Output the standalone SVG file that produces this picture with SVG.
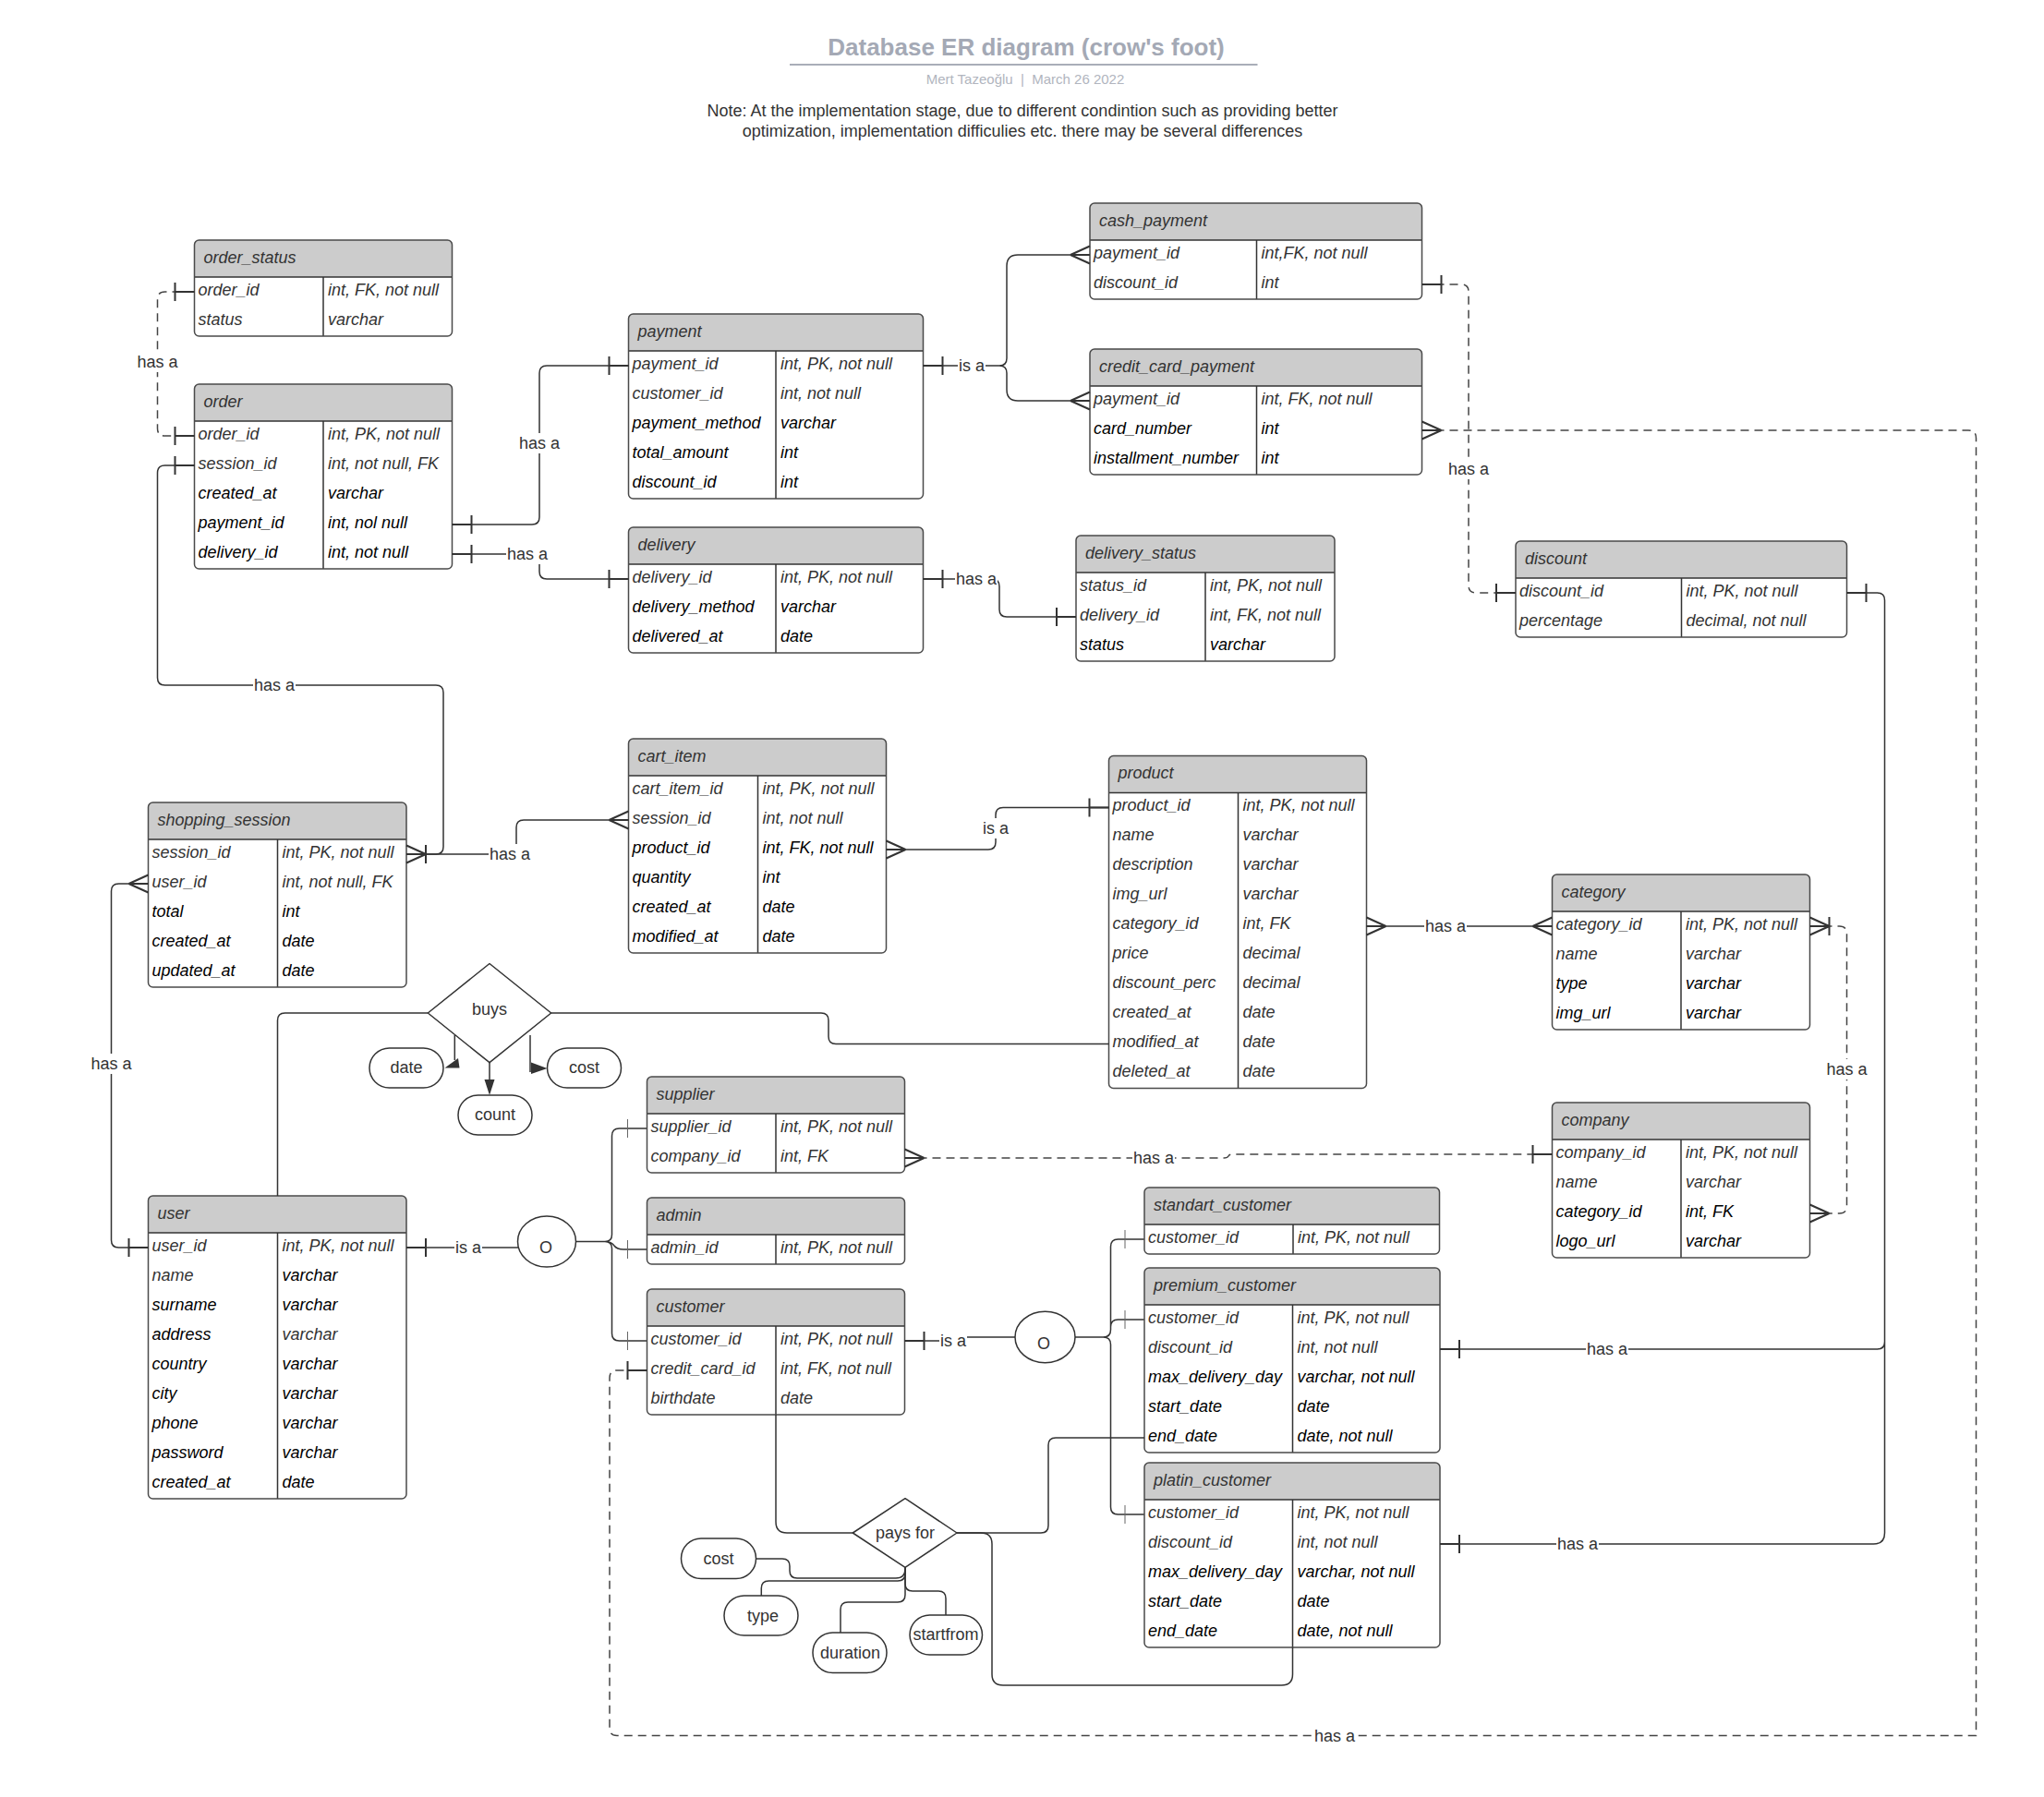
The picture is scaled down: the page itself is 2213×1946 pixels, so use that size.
<svg xmlns="http://www.w3.org/2000/svg" width="2213" height="1946" viewBox="0 0 2213 1946">
<style>
.bf{fill:#fff}
.bo{fill:none;stroke:#4a4a4a;stroke-width:1.5}
.hd{fill:#cccccc}
.ln{fill:none;stroke:#333;stroke-width:1.5}
.t{font-family:"Liberation Sans",Arial,sans-serif;font-size:18px;font-style:italic;fill:#333;transform:translateY(-1.5px)}
.k{fill:#000}
.c{fill:none;stroke:#333;stroke-width:1.5}
.d{stroke:#444;stroke-dasharray:9 6}
.lb{font-family:"Liberation Sans",Arial,sans-serif;font-size:18px;fill:#333;text-anchor:middle}
.wb{fill:#fff}
.sh{fill:#fff;stroke:#333;stroke-width:1.5;stroke-linejoin:round}
.ah{fill:#333}
</style>
<defs>
<path id="one" d="M0,0H21M21,-10V10" fill="none" stroke="#333" stroke-width="2"/>
<path id="onet" d="M0,0H21M21,-10V10" fill="none" stroke="#666" stroke-width="1"/>
<path id="many" d="M21,0L0,-9.5M21,0L0,9.5M21,0H0" fill="none" stroke="#333" stroke-width="2"/>
<path id="onemany" d="M21,0L0,-9.5M21,0L0,9.5M21,0H0M21,-10V10" fill="none" stroke="#333" stroke-width="2"/>
</defs>
<rect width="2213" height="1946" fill="#fff"/>

<g id="title">
<text x="1111" y="60" text-anchor="middle" font-family="Liberation Sans, Arial, sans-serif" font-size="26" font-weight="bold" fill="#a4a9b5">Database ER diagram (crow's foot)</text>
<path d="M855,70H1361.5" stroke="#a9aeb8" stroke-width="2"/>
<text x="1110" y="91" text-anchor="middle" font-family="Liberation Sans, Arial, sans-serif" font-size="15" fill="#b1b5be" xml:space="preserve" style="white-space:pre">Mert Tazeoğlu  |  March 26 2022</text>
<text x="1107" y="126" text-anchor="middle" font-family="Liberation Sans, Arial, sans-serif" font-size="18" fill="#333">Note: At the implementation stage, due to different condintion such as providing better</text>
<text x="1107" y="148" text-anchor="middle" font-family="Liberation Sans, Arial, sans-serif" font-size="18" fill="#333">optimization, implementation difficulies etc. there may be several differences</text>
</g>

<g id="order_status">
<rect class="bf" x="210.5" y="260" width="279" height="104" rx="5"/>
<path class="hd" d="M210.5,300V265Q210.5,260 215.5,260H484.5Q489.5,260 489.5,265V300Z"/>
<path class="ln" d="M210.5,300H489.5M350,300V364"/>
<text class="t" x="220.5" y="286">order_status</text>
<text class="t" x="214.5" y="321">order_id</text><text class="t" x="355" y="321">int, FK, not null</text>
<text class="t" x="214.5" y="353">status</text><text class="t" x="355" y="353">varchar</text>
<rect class="bo" x="210.5" y="260" width="279" height="104" rx="5"/>
</g>

<g id="order">
<rect class="bf" x="210.5" y="416" width="279" height="200" rx="5"/>
<path class="hd" d="M210.5,456V421Q210.5,416 215.5,416H484.5Q489.5,416 489.5,421V456Z"/>
<path class="ln" d="M210.5,456H489.5M350,456V616"/>
<text class="t" x="220.5" y="442">order</text>
<text class="t" x="214.5" y="477">order_id</text><text class="t" x="355" y="477">int, PK, not null</text>
<text class="t" x="214.5" y="509">session_id</text><text class="t" x="355" y="509">int, not null, FK</text>
<text class="t k" x="214.5" y="541">created_at</text><text class="t k" x="355" y="541">varchar</text>
<text class="t k" x="214.5" y="573">payment_id</text><text class="t k" x="355" y="573">int, nol null</text>
<text class="t k" x="214.5" y="605">delivery_id</text><text class="t k" x="355" y="605">int, not null</text>
<rect class="bo" x="210.5" y="416" width="279" height="200" rx="5"/>
</g>

<g id="payment">
<rect class="bf" x="680.5" y="340" width="319" height="200" rx="5"/>
<path class="hd" d="M680.5,380V345Q680.5,340 685.5,340H994.5Q999.5,340 999.5,345V380Z"/>
<path class="ln" d="M680.5,380H999.5M840,380V540"/>
<text class="t" x="690.5" y="366">payment</text>
<text class="t" x="684.5" y="401">payment_id</text><text class="t" x="845" y="401">int, PK, not null</text>
<text class="t" x="684.5" y="433">customer_id</text><text class="t" x="845" y="433">int, not null</text>
<text class="t k" x="684.5" y="465">payment_method</text><text class="t k" x="845" y="465">varchar</text>
<text class="t k" x="684.5" y="497">total_amount</text><text class="t k" x="845" y="497">int</text>
<text class="t k" x="684.5" y="529">discount_id</text><text class="t k" x="845" y="529">int</text>
<rect class="bo" x="680.5" y="340" width="319" height="200" rx="5"/>
</g>

<g id="delivery">
<rect class="bf" x="680.5" y="571" width="319" height="136" rx="5"/>
<path class="hd" d="M680.5,611V576Q680.5,571 685.5,571H994.5Q999.5,571 999.5,576V611Z"/>
<path class="ln" d="M680.5,611H999.5M840,611V707"/>
<text class="t" x="690.5" y="597">delivery</text>
<text class="t" x="684.5" y="632">delivery_id</text><text class="t" x="845" y="632">int, PK, not null</text>
<text class="t k" x="684.5" y="664">delivery_method</text><text class="t k" x="845" y="664">varchar</text>
<text class="t k" x="684.5" y="696">delivered_at</text><text class="t k" x="845" y="696">date</text>
<rect class="bo" x="680.5" y="571" width="319" height="136" rx="5"/>
</g>

<g id="cash_payment">
<rect class="bf" x="1180" y="220" width="359.5" height="104" rx="5"/>
<path class="hd" d="M1180,260V225Q1180,220 1185,220H1534.5Q1539.5,220 1539.5,225V260Z"/>
<path class="ln" d="M1180,260H1539.5M1360.5,260V324"/>
<text class="t" x="1190" y="246">cash_payment</text>
<text class="t" x="1184" y="281">payment_id</text><text class="t" x="1365.5" y="281">int,FK, not null</text>
<text class="t" x="1184" y="313">discount_id</text><text class="t" x="1365.5" y="313">int</text>
<rect class="bo" x="1180" y="220" width="359.5" height="104" rx="5"/>
</g>

<g id="credit_card_payment">
<rect class="bf" x="1180" y="378" width="359.5" height="136" rx="5"/>
<path class="hd" d="M1180,418V383Q1180,378 1185,378H1534.5Q1539.5,378 1539.5,383V418Z"/>
<path class="ln" d="M1180,418H1539.5M1360.5,418V514"/>
<text class="t" x="1190" y="404">credit_card_payment</text>
<text class="t" x="1184" y="439">payment_id</text><text class="t" x="1365.5" y="439">int, FK, not null</text>
<text class="t k" x="1184" y="471">card_number</text><text class="t k" x="1365.5" y="471">int</text>
<text class="t k" x="1184" y="503">installment_number</text><text class="t k" x="1365.5" y="503">int</text>
<rect class="bo" x="1180" y="378" width="359.5" height="136" rx="5"/>
</g>

<g id="delivery_status">
<rect class="bf" x="1165" y="580" width="280" height="136" rx="5"/>
<path class="hd" d="M1165,620V585Q1165,580 1170,580H1440Q1445,580 1445,585V620Z"/>
<path class="ln" d="M1165,620H1445M1305,620V716"/>
<text class="t" x="1175" y="606">delivery_status</text>
<text class="t" x="1169" y="641">status_id</text><text class="t" x="1310" y="641">int, PK, not null</text>
<text class="t" x="1169" y="673">delivery_id</text><text class="t" x="1310" y="673">int, FK, not null</text>
<text class="t k" x="1169" y="705">status</text><text class="t k" x="1310" y="705">varchar</text>
<rect class="bo" x="1165" y="580" width="280" height="136" rx="5"/>
</g>

<g id="discount">
<rect class="bf" x="1641" y="586" width="358.5" height="104" rx="5"/>
<path class="hd" d="M1641,626V591Q1641,586 1646,586H1994.5Q1999.5,586 1999.5,591V626Z"/>
<path class="ln" d="M1641,626H1999.5M1820.5,626V690"/>
<text class="t" x="1651" y="612">discount</text>
<text class="t" x="1645" y="647">discount_id</text><text class="t" x="1825.5" y="647">int, PK, not null</text>
<text class="t" x="1645" y="679">percentage</text><text class="t" x="1825.5" y="679">decimal, not null</text>
<rect class="bo" x="1641" y="586" width="358.5" height="104" rx="5"/>
</g>

<g id="shopping_session">
<rect class="bf" x="160.5" y="869" width="279.5" height="200" rx="5"/>
<path class="hd" d="M160.5,909V874Q160.5,869 165.5,869H435Q440,869 440,874V909Z"/>
<path class="ln" d="M160.5,909H440M300.5,909V1069"/>
<text class="t" x="170.5" y="895">shopping_session</text>
<text class="t" x="164.5" y="930">session_id</text><text class="t" x="305.5" y="930">int, PK, not null</text>
<text class="t" x="164.5" y="962">user_id</text><text class="t" x="305.5" y="962">int, not null, FK</text>
<text class="t k" x="164.5" y="994">total</text><text class="t k" x="305.5" y="994">int</text>
<text class="t k" x="164.5" y="1026">created_at</text><text class="t k" x="305.5" y="1026">date</text>
<text class="t k" x="164.5" y="1058">updated_at</text><text class="t k" x="305.5" y="1058">date</text>
<rect class="bo" x="160.5" y="869" width="279.5" height="200" rx="5"/>
</g>

<g id="cart_item">
<rect class="bf" x="680.5" y="800" width="279" height="232" rx="5"/>
<path class="hd" d="M680.5,840V805Q680.5,800 685.5,800H954.5Q959.5,800 959.5,805V840Z"/>
<path class="ln" d="M680.5,840H959.5M820.5,840V1032"/>
<text class="t" x="690.5" y="826">cart_item</text>
<text class="t" x="684.5" y="861">cart_item_id</text><text class="t" x="825.5" y="861">int, PK, not null</text>
<text class="t" x="684.5" y="893">session_id</text><text class="t" x="825.5" y="893">int, not null</text>
<text class="t k" x="684.5" y="925">product_id</text><text class="t k" x="825.5" y="925">int, FK, not null</text>
<text class="t k" x="684.5" y="957">quantity</text><text class="t k" x="825.5" y="957">int</text>
<text class="t k" x="684.5" y="989">created_at</text><text class="t k" x="825.5" y="989">date</text>
<text class="t k" x="684.5" y="1021">modified_at</text><text class="t k" x="825.5" y="1021">date</text>
<rect class="bo" x="680.5" y="800" width="279" height="232" rx="5"/>
</g>

<g id="product">
<rect class="bf" x="1200.5" y="818.5" width="279" height="360" rx="5"/>
<path class="hd" d="M1200.5,858.5V823.5Q1200.5,818.5 1205.5,818.5H1474.5Q1479.5,818.5 1479.5,823.5V858.5Z"/>
<path class="ln" d="M1200.5,858.5H1479.5M1340.5,858.5V1178.5"/>
<text class="t" x="1210.5" y="844.5">product</text>
<text class="t" x="1204.5" y="879.5">product_id</text><text class="t" x="1345.5" y="879.5">int, PK, not null</text>
<text class="t" x="1204.5" y="911.5">name</text><text class="t" x="1345.5" y="911.5">varchar</text>
<text class="t" x="1204.5" y="943.5">description</text><text class="t" x="1345.5" y="943.5">varchar</text>
<text class="t" x="1204.5" y="975.5">img_url</text><text class="t" x="1345.5" y="975.5">varchar</text>
<text class="t" x="1204.5" y="1007.5">category_id</text><text class="t" x="1345.5" y="1007.5">int, FK</text>
<text class="t" x="1204.5" y="1039.5">price</text><text class="t" x="1345.5" y="1039.5">decimal</text>
<text class="t" x="1204.5" y="1071.5">discount_perc</text><text class="t" x="1345.5" y="1071.5">decimal</text>
<text class="t" x="1204.5" y="1103.5">created_at</text><text class="t" x="1345.5" y="1103.5">date</text>
<text class="t" x="1204.5" y="1135.5">modified_at</text><text class="t" x="1345.5" y="1135.5">date</text>
<text class="t" x="1204.5" y="1167.5">deleted_at</text><text class="t" x="1345.5" y="1167.5">date</text>
<rect class="bo" x="1200.5" y="818.5" width="279" height="360" rx="5"/>
</g>

<g id="category">
<rect class="bf" x="1680.5" y="947" width="279" height="168" rx="5"/>
<path class="hd" d="M1680.5,987V952Q1680.5,947 1685.5,947H1954.5Q1959.5,947 1959.5,952V987Z"/>
<path class="ln" d="M1680.5,987H1959.5M1820,987V1115"/>
<text class="t" x="1690.5" y="973">category</text>
<text class="t" x="1684.5" y="1008">category_id</text><text class="t" x="1825" y="1008">int, PK, not null</text>
<text class="t" x="1684.5" y="1040">name</text><text class="t" x="1825" y="1040">varchar</text>
<text class="t k" x="1684.5" y="1072">type</text><text class="t k" x="1825" y="1072">varchar</text>
<text class="t k" x="1684.5" y="1104">img_url</text><text class="t k" x="1825" y="1104">varchar</text>
<rect class="bo" x="1680.5" y="947" width="279" height="168" rx="5"/>
</g>

<g id="company">
<rect class="bf" x="1680.5" y="1194" width="279" height="168" rx="5"/>
<path class="hd" d="M1680.5,1234V1199Q1680.5,1194 1685.5,1194H1954.5Q1959.5,1194 1959.5,1199V1234Z"/>
<path class="ln" d="M1680.5,1234H1959.5M1820,1234V1362"/>
<text class="t" x="1690.5" y="1220">company</text>
<text class="t" x="1684.5" y="1255">company_id</text><text class="t" x="1825" y="1255">int, PK, not null</text>
<text class="t" x="1684.5" y="1287">name</text><text class="t" x="1825" y="1287">varchar</text>
<text class="t k" x="1684.5" y="1319">category_id</text><text class="t k" x="1825" y="1319">int, FK</text>
<text class="t k" x="1684.5" y="1351">logo_url</text><text class="t k" x="1825" y="1351">varchar</text>
<rect class="bo" x="1680.5" y="1194" width="279" height="168" rx="5"/>
</g>

<g id="supplier">
<rect class="bf" x="700.5" y="1166" width="279" height="104" rx="5"/>
<path class="hd" d="M700.5,1206V1171Q700.5,1166 705.5,1166H974.5Q979.5,1166 979.5,1171V1206Z"/>
<path class="ln" d="M700.5,1206H979.5M840,1206V1270"/>
<text class="t" x="710.5" y="1192">supplier</text>
<text class="t" x="704.5" y="1227">supplier_id</text><text class="t" x="845" y="1227">int, PK, not null</text>
<text class="t" x="704.5" y="1259">company_id</text><text class="t" x="845" y="1259">int, FK</text>
<rect class="bo" x="700.5" y="1166" width="279" height="104" rx="5"/>
</g>

<g id="admin">
<rect class="bf" x="700.5" y="1297" width="279" height="72" rx="5"/>
<path class="hd" d="M700.5,1337V1302Q700.5,1297 705.5,1297H974.5Q979.5,1297 979.5,1302V1337Z"/>
<path class="ln" d="M700.5,1337H979.5M840,1337V1369"/>
<text class="t" x="710.5" y="1323">admin</text>
<text class="t" x="704.5" y="1358">admin_id</text><text class="t" x="845" y="1358">int, PK, not null</text>
<rect class="bo" x="700.5" y="1297" width="279" height="72" rx="5"/>
</g>

<g id="customer">
<rect class="bf" x="700.5" y="1396" width="279" height="136" rx="5"/>
<path class="hd" d="M700.5,1436V1401Q700.5,1396 705.5,1396H974.5Q979.5,1396 979.5,1401V1436Z"/>
<path class="ln" d="M700.5,1436H979.5M840,1436V1532"/>
<text class="t" x="710.5" y="1422">customer</text>
<text class="t" x="704.5" y="1457">customer_id</text><text class="t" x="845" y="1457">int, PK, not null</text>
<text class="t" x="704.5" y="1489">credit_card_id</text><text class="t" x="845" y="1489">int, FK, not null</text>
<text class="t" x="704.5" y="1521">birthdate</text><text class="t" x="845" y="1521">date</text>
<rect class="bo" x="700.5" y="1396" width="279" height="136" rx="5"/>
</g>

<g id="user">
<rect class="bf" x="160.5" y="1295" width="279.5" height="328" rx="5"/>
<path class="hd" d="M160.5,1335V1300Q160.5,1295 165.5,1295H435Q440,1295 440,1300V1335Z"/>
<path class="ln" d="M160.5,1335H440M300.5,1335V1623"/>
<text class="t" x="170.5" y="1321">user</text>
<text class="t" x="164.5" y="1356">user_id</text><text class="t" x="305.5" y="1356">int, PK, not null</text>
<text class="t" x="164.5" y="1388">name</text><text class="t k" x="305.5" y="1388">varchar</text>
<text class="t k" x="164.5" y="1420">surname</text><text class="t k" x="305.5" y="1420">varchar</text>
<text class="t k" x="164.5" y="1452">address</text><text class="t" x="305.5" y="1452">varchar</text>
<text class="t k" x="164.5" y="1484">country</text><text class="t k" x="305.5" y="1484">varchar</text>
<text class="t k" x="164.5" y="1516">city</text><text class="t k" x="305.5" y="1516">varchar</text>
<text class="t k" x="164.5" y="1548">phone</text><text class="t k" x="305.5" y="1548">varchar</text>
<text class="t k" x="164.5" y="1580">password</text><text class="t k" x="305.5" y="1580">varchar</text>
<text class="t k" x="164.5" y="1612">created_at</text><text class="t k" x="305.5" y="1612">date</text>
<rect class="bo" x="160.5" y="1295" width="279.5" height="328" rx="5"/>
</g>

<g id="standart_customer">
<rect class="bf" x="1239" y="1286" width="319.5" height="72" rx="5"/>
<path class="hd" d="M1239,1326V1291Q1239,1286 1244,1286H1553.5Q1558.5,1286 1558.5,1291V1326Z"/>
<path class="ln" d="M1239,1326H1558.5M1400,1326V1358"/>
<text class="t" x="1249" y="1312">standart_customer</text>
<text class="t" x="1243" y="1347">customer_id</text><text class="t" x="1405" y="1347">int, PK, not null</text>
<rect class="bo" x="1239" y="1286" width="319.5" height="72" rx="5"/>
</g>

<g id="premium_customer">
<rect class="bf" x="1239" y="1373" width="320" height="200" rx="5"/>
<path class="hd" d="M1239,1413V1378Q1239,1373 1244,1373H1554Q1559,1373 1559,1378V1413Z"/>
<path class="ln" d="M1239,1413H1559M1399.5,1413V1573"/>
<text class="t" x="1249" y="1399">premium_customer</text>
<text class="t" x="1243" y="1434">customer_id</text><text class="t" x="1404.5" y="1434">int, PK, not null</text>
<text class="t" x="1243" y="1466">discount_id</text><text class="t" x="1404.5" y="1466">int, not null</text>
<text class="t k" x="1243" y="1498">max_delivery_day</text><text class="t k" x="1404.5" y="1498">varchar, not null</text>
<text class="t k" x="1243" y="1530">start_date</text><text class="t k" x="1404.5" y="1530">date</text>
<text class="t k" x="1243" y="1562">end_date</text><text class="t k" x="1404.5" y="1562">date, not null</text>
<rect class="bo" x="1239" y="1373" width="320" height="200" rx="5"/>
</g>

<g id="platin_customer">
<rect class="bf" x="1239" y="1584" width="320" height="200" rx="5"/>
<path class="hd" d="M1239,1624V1589Q1239,1584 1244,1584H1554Q1559,1584 1559,1589V1624Z"/>
<path class="ln" d="M1239,1624H1559M1399.5,1624V1784"/>
<text class="t" x="1249" y="1610">platin_customer</text>
<text class="t" x="1243" y="1645">customer_id</text><text class="t" x="1404.5" y="1645">int, PK, not null</text>
<text class="t" x="1243" y="1677">discount_id</text><text class="t" x="1404.5" y="1677">int, not null</text>
<text class="t k" x="1243" y="1709">max_delivery_day</text><text class="t k" x="1404.5" y="1709">varchar, not null</text>
<text class="t k" x="1243" y="1741">start_date</text><text class="t k" x="1404.5" y="1741">date</text>
<text class="t k" x="1243" y="1773">end_date</text><text class="t k" x="1404.5" y="1773">date, not null</text>
<rect class="bo" x="1239" y="1584" width="320" height="200" rx="5"/>
</g>

<g id="buys">
<polygon class="sh" points="530,1043.5 596.7,1097 530,1150.7 463.3,1097"/>
<text class="lb" x="530" y="1099">buys</text>
</g>
<g id="buys_date"><rect class="sh" x="400" y="1135" width="80" height="43" rx="21.5"/><text class="lb" x="440" y="1162">date</text></g>
<g id="buys_cost"><rect class="sh" x="592.5" y="1135" width="80" height="43" rx="21.5"/><text class="lb" x="632.5" y="1162">cost</text></g>
<g id="buys_count"><rect class="sh" x="496" y="1186" width="80" height="43" rx="21.5"/><text class="lb" x="536" y="1213">count</text></g>

<g id="pays_for">
<polygon class="sh" points="980,1622.7 1036,1660 980,1697.3 923.3,1660"/>
<text class="lb" x="980" y="1666">pays for</text>
</g>
<g id="pays_cost"><rect class="sh" x="737.5" y="1666" width="81" height="43.5" rx="21.5"/><text class="lb" x="778" y="1694">cost</text></g>
<g id="pays_type"><rect class="sh" x="784" y="1728" width="80" height="43" rx="21.5"/><text class="lb" x="826" y="1756">type</text></g>
<g id="pays_duration"><rect class="sh" x="880" y="1768" width="80" height="43.5" rx="21.5"/><text class="lb" x="920.5" y="1796">duration</text></g>
<g id="pays_startfrom"><rect class="sh" x="985" y="1749" width="78.5" height="43" rx="21.5"/><text class="lb" x="1024" y="1776">startfrom</text></g>

<g id="isa_user">
<ellipse class="sh" cx="592" cy="1344.5" rx="31.5" ry="27.5"/>
<text class="lb" x="591" y="1357" font-size="19">O</text>
</g>
<g id="isa_customer">
<ellipse class="sh" cx="1131.5" cy="1448" rx="32.5" ry="27.7"/>
<text class="lb" x="1130" y="1461" font-size="19">O</text>
</g>

<g id="connectors">
<path class="c d" d="M210.5,316H178.5Q170.5,316 170.5,324V464Q170.5,472 178.5,472H210.5"/>
<path class="c" d="M210.5,504H178.5Q170.5,504 170.5,512V734Q170.5,742 178.5,742H472Q480,742 480,750V917Q480,925 472,925H440"/>
<path class="c" d="M440,925H551Q559,925 559,917V896Q559,888 567,888H680.5"/>
<path class="c" d="M489.5,568H576Q584,568 584,560V404Q584,396 592,396H680.5"/>
<path class="c" d="M489.5,600H576Q584,600 584,608V619Q584,627 592,627H680.5"/>
<path class="c" d="M999.5,396H1082Q1090,396 1090,388V288Q1090,276 1102,276H1180M1082,396Q1090,396 1090,404V422Q1090,434 1102,434H1180"/>
<path class="c" d="M999.5,627H1074Q1082,627 1082,635V660Q1082,668 1090,668H1165"/>
<path class="c d" d="M1539.5,308H1582Q1590,308 1590,316V634Q1590,642 1598,642H1641"/>
<path class="c d" d="M1539.5,466H2131Q2139.5,466 2139.5,474.5V1879.5H668Q660,1879.5 660,1871.5V1492Q660,1484 668,1484H700.5"/>
<path class="c" d="M1999.5,642H2032.5Q2040.5,642 2040.5,650V1453Q2040.5,1461 2032.5,1461H1559M2040.5,1453V1660Q2040.5,1672 2028.5,1672H1559"/>
<path class="c" d="M160.5,957H128.5Q120.5,957 120.5,965V1343Q120.5,1351 128.5,1351H160.5"/>
<path class="c" d="M959.5,920H1070Q1078,920 1078,912V882.5Q1078,874.5 1086,874.5H1200.5"/>
<path class="c" d="M1479.5,1003H1680.5"/>
<path class="c d" d="M1959.5,1003H1991.5Q1999.5,1003 1999.5,1011V1306Q1999.5,1314 1991.5,1314H1959.5"/>
<path class="c d" d="M979.5,1254H1325Q1329,1254 1330,1252Q1331,1250 1335,1250H1680.5"/>
<path class="c" d="M463.3,1097H308.5Q300.5,1097 300.5,1105V1295M596.7,1097H889Q897,1097 897,1105V1122.5Q897,1130.5 905,1130.5H1200.5"/>
<path class="c" d="M492.3,1121V1148M574,1121V1161M530,1150.7V1170"/>
<polygon class="ah" points="481.5,1156.5 496,1146 497.5,1156.5"/>
<polygon class="ah" points="575,1150.5 592.5,1157 575,1163"/>
<polygon class="ah" points="524.5,1169 535.5,1169 530,1186"/>
<path class="c" d="M440,1351H561"/>
<path class="c" d="M623.5,1344.5H655Q662.5,1344.5 662.5,1337V1230Q662.5,1222 670.5,1222H700.5M655,1344.5Q662,1344.5 665,1349Q668,1353 675,1353H700.5M655,1344.5Q662.5,1344.5 662.5,1352V1444Q662.5,1452 670.5,1452H700.5"/>
<path class="c" d="M979.5,1452H1040L1046,1448H1099"/>
<path class="c" d="M1164,1448H1194.5Q1202.5,1448 1202.5,1440V1350Q1202.5,1342 1210.5,1342H1239M1194.5,1448Q1202.5,1448 1202.5,1440V1437Q1202.5,1429 1210.5,1429H1239M1194.5,1448Q1202.5,1448 1202.5,1456V1632Q1202.5,1640 1210.5,1640H1239"/>
<path class="c" d="M840,1532V1648Q840,1660 852,1660H923.3"/>
<path class="c" d="M1036,1660H1127Q1135,1660 1135,1652V1565Q1135,1557 1143,1557H1239"/>
<path class="c" d="M1036,1660H1062Q1074,1660 1074,1672V1813Q1074,1825 1086,1825H1387.5Q1399.5,1825 1399.5,1813V1784"/>
<path class="c" d="M818.3,1688H847Q855,1688 855,1696V1701Q855,1709 863,1709H970Q980,1709 980,1699V1697.3"/>
<path class="c" d="M824.3,1728V1720Q824.3,1712 832.3,1712H972Q980,1712 980,1704V1697.3"/>
<path class="c" d="M910,1768V1743Q910,1735 918,1735H972Q980,1735 980,1727V1697.3"/>
<path class="c" d="M1024,1749V1731Q1024,1723 1016,1723H988Q980,1723 980,1715V1697.3"/>

<use href="#one" transform="translate(210.5,316) scale(-1,1)"/>
<use href="#one" transform="translate(210.5,472) scale(-1,1)"/>
<use href="#one" transform="translate(210.5,504) scale(-1,1)"/>
<use href="#onemany" transform="translate(440,925)"/>
<use href="#many" transform="translate(680.5,888) scale(-1,1)"/>
<use href="#one" transform="translate(489.5,568)"/>
<use href="#one" transform="translate(680.5,396) scale(-1,1)"/>
<use href="#one" transform="translate(489.5,600)"/>
<use href="#one" transform="translate(680.5,627) scale(-1,1)"/>
<use href="#one" transform="translate(999.5,396)"/>
<use href="#many" transform="translate(1180,276) scale(-1,1)"/>
<use href="#many" transform="translate(1180,434) scale(-1,1)"/>
<use href="#one" transform="translate(999.5,627)"/>
<use href="#one" transform="translate(1165,668) scale(-1,1)"/>
<use href="#one" transform="translate(1539.5,308)"/>
<use href="#one" transform="translate(1641,642) scale(-1,1)"/>
<use href="#many" transform="translate(1539.5,466)"/>
<use href="#one" transform="translate(700.5,1484) scale(-1,1)"/>
<use href="#one" transform="translate(1999.5,642)"/>
<use href="#one" transform="translate(1559,1461)"/>
<use href="#one" transform="translate(1559,1672)"/>
<use href="#many" transform="translate(160.5,957) scale(-1,1)"/>
<use href="#one" transform="translate(160.5,1351) scale(-1,1)"/>
<use href="#many" transform="translate(959.5,920)"/>
<use href="#one" transform="translate(1200.5,874.5) scale(-1,1)"/>
<use href="#many" transform="translate(1479.5,1003)"/>
<use href="#many" transform="translate(1680.5,1003) scale(-1,1)"/>
<use href="#onemany" transform="translate(1959.5,1003)"/>
<use href="#many" transform="translate(1959.5,1314)"/>
<use href="#many" transform="translate(979.5,1254)"/>
<use href="#one" transform="translate(1680.5,1250) scale(-1,1)"/>
<use href="#one" transform="translate(440,1351)"/>
<use href="#one" transform="translate(979.5,1452)"/>
<use href="#onet" transform="translate(700.5,1222) scale(-1,1)"/>
<use href="#onet" transform="translate(700.5,1353) scale(-1,1)"/>
<use href="#onet" transform="translate(700.5,1452) scale(-1,1)"/>
<use href="#onet" transform="translate(1239,1342) scale(-1,1)"/>
<use href="#onet" transform="translate(1239,1429) scale(-1,1)"/>
<use href="#onet" transform="translate(1239,1640) scale(-1,1)"/>

<g id="labels">
<rect class="wb" x="147.5" y="381" width="46" height="22"/><text class="lb" x="170.5" y="398">has a</text>
<rect class="wb" x="274" y="731" width="46" height="22"/><text class="lb" x="297" y="748">has a</text>
<rect class="wb" x="529" y="914" width="46" height="22"/><text class="lb" x="552" y="931">has a</text>
<rect class="wb" x="561" y="469" width="46" height="22"/><text class="lb" x="584" y="486">has a</text>
<rect class="wb" x="548" y="589" width="46" height="22"/><text class="lb" x="571" y="606">has a</text>
<rect class="wb" x="1037" y="385" width="30" height="22"/><text class="lb" x="1052" y="402">is a</text>
<rect class="wb" x="1034" y="616" width="46" height="22"/><text class="lb" x="1057" y="633">has a</text>
<rect class="wb" x="1567" y="497" width="46" height="22"/><text class="lb" x="1590" y="514">has a</text>
<rect class="wb" x="1422" y="1868.5" width="46" height="22"/><text class="lb" x="1445" y="1885.5">has a</text>
<rect class="wb" x="1717" y="1450" width="46" height="22"/><text class="lb" x="1740" y="1467">has a</text>
<rect class="wb" x="1685" y="1661" width="46" height="22"/><text class="lb" x="1708" y="1678">has a</text>
<rect class="wb" x="97.5" y="1141" width="46" height="22"/><text class="lb" x="120.5" y="1158">has a</text>
<rect class="wb" x="1063" y="886" width="30" height="22"/><text class="lb" x="1078" y="903">is a</text>
<rect class="wb" x="1542" y="992" width="46" height="22"/><text class="lb" x="1565" y="1009">has a</text>
<rect class="wb" x="1976.5" y="1147" width="46" height="22"/><text class="lb" x="1999.5" y="1164">has a</text>
<rect class="wb" x="1226" y="1243" width="46" height="22"/><text class="lb" x="1249" y="1260">has a</text>
<rect class="wb" x="492" y="1340" width="30" height="22"/><text class="lb" x="507" y="1357">is a</text>
<rect class="wb" x="1017" y="1441" width="30" height="22"/><text class="lb" x="1032" y="1458">is a</text>
</g>
</g>
</svg>
